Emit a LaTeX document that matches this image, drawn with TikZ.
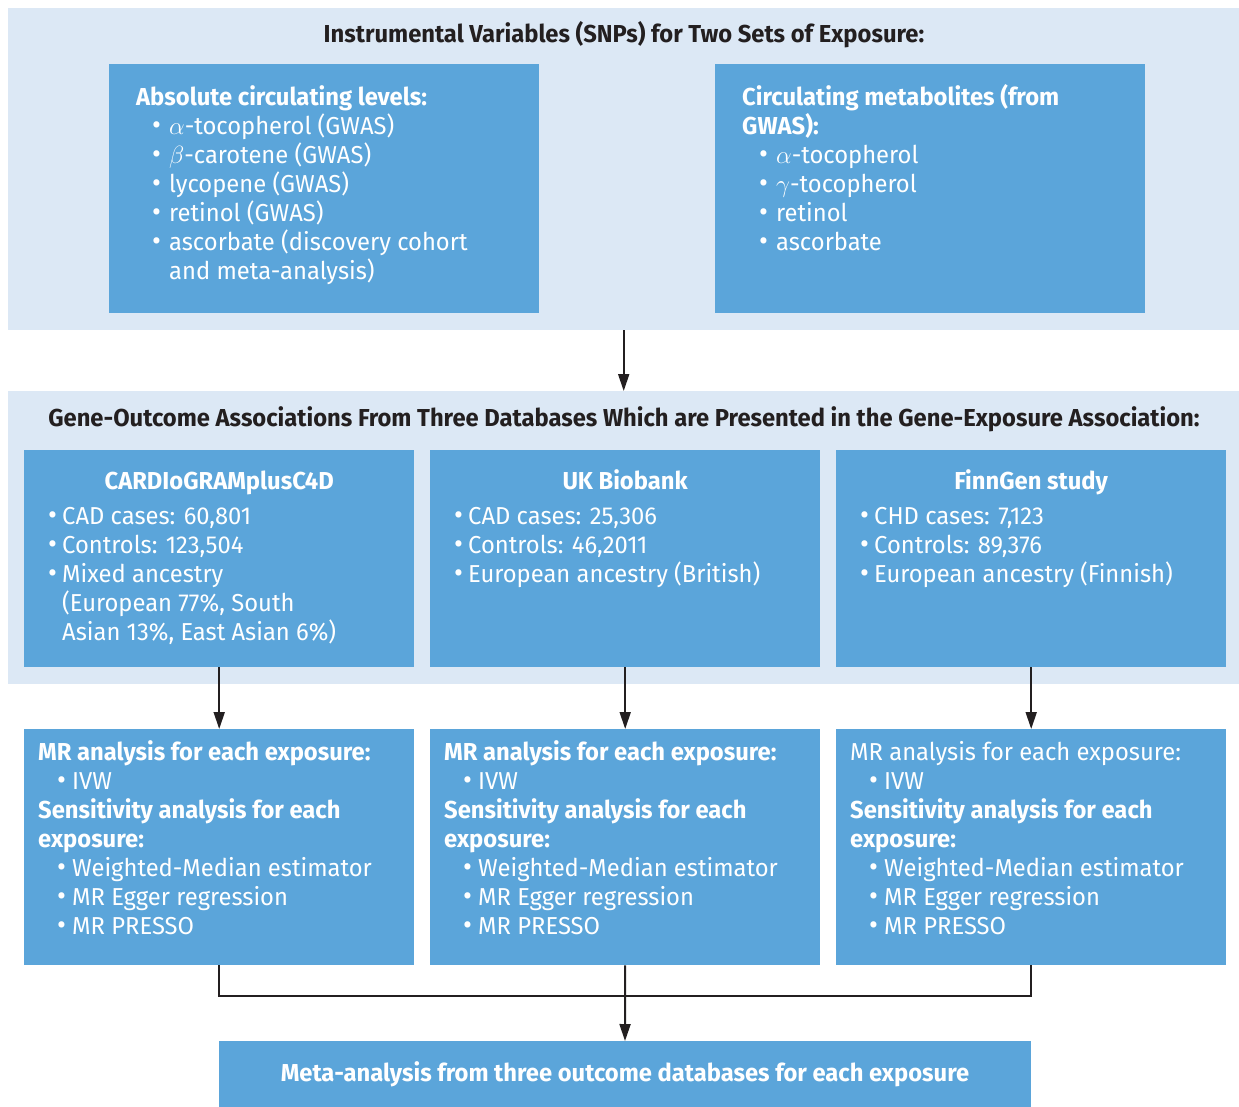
\documentclass[tikz,border=0pt]{standalone}
\usepackage{fontspec}
\setmainfont{Fira Sans}[FakeStretch=0.97]
\usepackage{tikz}
\usetikzlibrary{arrows.meta}

\definecolor{panelbg}{HTML}{DCE8F5}
\definecolor{boxblue}{HTML}{5BA5DA}
\definecolor{titletext}{HTML}{231F20}

% text of a box: width, height, first baseline, content
\newlength{\bulind}
\newlength{\bulwd}
\newcommand{\boxtext}[4]{\parbox[t][#2][t]{#1}{\rule{0pt}{#3}#4}}
\newcommand{\bigbullet}{\raisebox{-0.03em}{\scalebox{1.15}{\textbullet}}}
\newcommand{\bitem}[1]{\par\hangindent=\dimexpr\bulind+\bulwd\relax\hangafter=1
  \hspace*{\dimexpr\bulind-3pt\relax}\makebox[\dimexpr\bulwd+3pt\relax][l]{\bigbullet}#1}

\tikzset{
  bodyfont/.style={font=\fontsize{24.5pt}{29pt}\selectfont},
  panel/.style={fill=panelbg, anchor=north west, inner sep=0pt},
  paneltitle/.style={font=\fontsize{24.5pt}{29pt}\selectfont\bfseries, text=titletext},
  bluebox/.style={fill=boxblue, anchor=north west, inner ysep=0pt, inner xsep=#1, text=white, bodyfont},
  flow/.style={-{Triangle[length=17pt,width=11pt]}, line width=2pt, draw=titletext},
  link/.style={line width=2pt, draw=titletext},
}

\begin{document}
\begin{tikzpicture}[x=1pt, y=-1pt]
  \useasboundingbox (0,0) rectangle (1239,1107);

  % exposure panel
  \node[panel, minimum width=1231pt, minimum height=322pt] (topPanel) at (8,8) {};
  \node[paneltitle] (topTitle) at (624,35) {Instrumental Variables (SNPs) for Two Sets of Exposure:};
  \node[bluebox=27pt] (absBox) at (109,64) {\boxtext{376pt}{249pt}{41pt}{%
    \setlength{\bulind}{19pt}\setlength{\bulwd}{14pt}%
    \textbf{Absolute circulating levels:}
    \bitem{$\alpha$-tocopherol (GWAS)}
    \bitem{$\beta$-carotene (GWAS)}
    \bitem{lycopene (GWAS)}
    \bitem{retinol (GWAS)}
    \bitem{ascorbate (discovery cohort\\and meta-analysis)}}};
  \node[bluebox=27pt] (metBox) at (715,64) {\boxtext{376pt}{249pt}{41pt}{%
    \setlength{\bulind}{20pt}\setlength{\bulwd}{14pt}%
    \textbf{Circulating metabolites (from\\GWAS):}
    \bitem{$\alpha$-tocopherol}
    \bitem{$\gamma$-tocopherol}
    \bitem{retinol}
    \bitem{ascorbate}}};

  % outcome panel
  \node[panel, minimum width=1231pt, minimum height=293pt] (dbPanel) at (8,391) {};
  \node[paneltitle] (dbTitle) at (624,419) {Gene-Outcome Associations From Three Databases Which are Presented in the Gene-Exposure Association:};
  \node[bluebox=24pt] (cardBox) at (24,450) {\boxtext{342pt}{217pt}{39pt}{%
    \setlength{\bulind}{3pt}\setlength{\bulwd}{11pt}%
    {\centering\textbf{CARDIoGRAMplusC4D}\par}\vspace{6pt}
    \bitem{CAD cases: 60,801}
    \bitem{Controls: 123,504}
    \bitem{Mixed ancestry\\(European 77\%, South\\Asian 13\%, East Asian 6\%)}}};
  \node[bluebox=24pt] (ukBox) at (430,450) {\boxtext{342pt}{217pt}{39pt}{%
    \setlength{\bulind}{3pt}\setlength{\bulwd}{11pt}%
    {\centering\textbf{UK Biobank}\par}\vspace{6pt}
    \bitem{CAD cases: 25,306}
    \bitem{Controls: 46,2011}
    \bitem{European ancestry (British)}}};
  \node[bluebox=24pt] (finnBox) at (836,450) {\boxtext{342pt}{217pt}{39pt}{%
    \setlength{\bulind}{3pt}\setlength{\bulwd}{11pt}%
    {\centering\textbf{FinnGen study}\par}\vspace{6pt}
    \bitem{CHD cases: 7,123}
    \bitem{Controls: 89,376}
    \bitem{European ancestry (Finnish)}}};

  % MR analyses
  \node[bluebox=14pt] (cardMR) at (24,729) {\boxtext{362pt}{236pt}{31pt}{%
    \setlength{\bulind}{22pt}\setlength{\bulwd}{12pt}%
    \textbf{MR analysis for each exposure:}
    \bitem{IVW}\par
    \textbf{Sensitivity analysis for each\\exposure:}
    \bitem{Weighted-Median estimator}
    \bitem{MR Egger regression}
    \bitem{MR PRESSO}}};
  \node[bluebox=14pt] (ukMR) at (430,729) {\boxtext{362pt}{236pt}{31pt}{%
    \setlength{\bulind}{22pt}\setlength{\bulwd}{12pt}%
    \textbf{MR analysis for each exposure:}
    \bitem{IVW}\par
    \textbf{Sensitivity analysis for each\\exposure:}
    \bitem{Weighted-Median estimator}
    \bitem{MR Egger regression}
    \bitem{MR PRESSO}}};
  \node[bluebox=14pt] (finnMR) at (836,729) {\boxtext{362pt}{236pt}{31pt}{%
    \setlength{\bulind}{22pt}\setlength{\bulwd}{12pt}%
    MR analysis for each exposure:
    \bitem{IVW}\par
    \textbf{Sensitivity analysis for each\\exposure:}
    \bitem{Weighted-Median estimator}
    \bitem{MR Egger regression}
    \bitem{MR PRESSO}}};

  \node[bluebox=0pt, anchor=north, minimum width=812pt, minimum height=66pt,
        font=\fontsize{24.5pt}{29pt}\selectfont\bfseries] (metaBox) at (625,1041)
    {Meta-analysis from three outcome databases for each exposure};

  % connectors
  \coordinate (join) at (625,996);
  \draw[flow] (topPanel.south) -- (dbPanel.north);
  \draw[flow] (cardBox.south) -- (cardMR.north);
  \draw[flow] (ukBox.south) -- (ukMR.north);
  \draw[flow] (finnBox.south) -- (finnMR.north);
  \draw[link] (cardMR.south) |- (join) -| (finnMR.south);
  \draw[flow] (ukMR.south) -- (metaBox.north);
\end{tikzpicture}
\end{document}
